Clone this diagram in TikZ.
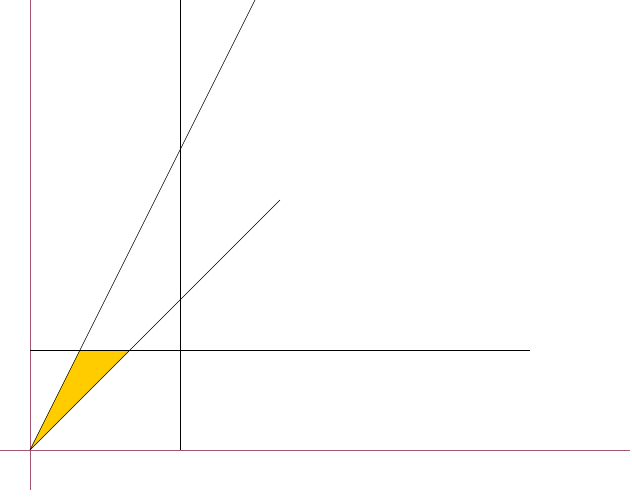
\documentclass[tikz,border=0pt]{standalone}
\begin{document}
\begin{tikzpicture}[x=1pt,y=-1pt,
  axisline/.style={draw=axisred,line width=0.6pt},
  thinline/.style={draw=black,line width=0.6pt}]
\definecolor{axisred}{RGB}{165,85,110}
\definecolor{fillyellow}{RGB}{255,204,0}
\useasboundingbox (0,0) rectangle (632,500);
\coordinate (O) at (30,450);
\coordinate (A) at (80,350);
\coordinate (B) at (130,350);
\fill[fillyellow] (O) -- (A) -- (B) -- cycle;
\draw[axisline] (30,0) -- (30,490);
\draw[axisline] (0,450) -- (630,450);
\draw[thinline] (30,350) -- (530,350);
\draw[thinline] (180,0) -- (180,450);
\draw[thinline] (O) -- (255,0);
\draw[thinline] (O) -- (280,200);
\end{tikzpicture}
\end{document}
